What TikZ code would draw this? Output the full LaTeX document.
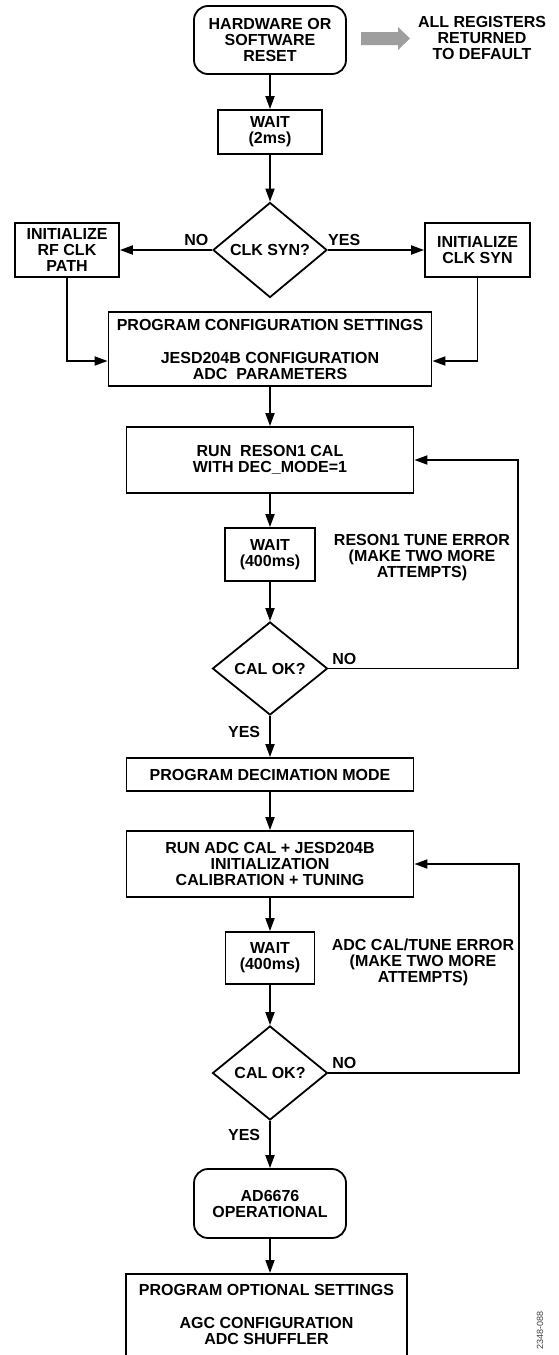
\documentclass[tikz,border=0pt]{standalone}
\usepackage{fontspec}
\setmainfont{Liberation Sans}
\usetikzlibrary{arrows.meta, calc, positioning, shapes.geometric}

\begin{document}
\begin{tikzpicture}[x=1pt, y=-1pt, line width=1.8pt,
    every node/.style={font=\fontsize{16}{16}\selectfont\bfseries, align=center},
    box/.style={draw, rectangle, inner sep=0pt},
    term/.style={box, rounded corners=14pt},
    decision/.style={draw, diamond, inner sep=0pt},
    flow/.style={-{Triangle[length=13pt,width=9pt]}},
    lbl/.style={inner sep=3pt}]
    \useasboundingbox (0,0) rectangle (559,1355);

    \coordinate (loop1) at (518,668.5);
    \coordinate (loop2) at (519,1073);

    \node[term, minimum width=152pt, minimum height=68pt] (reset) at (270,40) {HARDWARE OR\\SOFTWARE\\RESET};
    \node (regs) at (482,38) {ALL REGISTERS\\RETURNED\\TO DEFAULT};
    \fill[black!38] (361,32) -- (398,32) -- (398,27) -- (410,38.5) -- (398,50) -- (398,45) -- (361,45) -- cycle;

    \node[box, minimum width=104pt, minimum height=44pt] (wait1) at (270,132) {WAIT\\(2ms)};
    \node[decision, minimum width=114pt, minimum height=95pt] (clksyn) at (270,250) {CLK SYN?};
    \node[box, minimum width=104pt, minimum height=54pt] (rfclk) at (67,250) {INITIALIZE\\RF CLK\\PATH};
    \node[box, minimum width=105pt, minimum height=54pt] (clkinit) at (477.5,250) {INITIALIZE\\CLK SYN};
    \node[box, minimum width=323pt, minimum height=74pt] (progcfg) at (270,349) {PROGRAM CONFIGURATION SETTINGS\\[17pt]JESD204B CONFIGURATION\\ADC\ \ PARAMETERS};

    \node[box, minimum width=287pt, minimum height=66pt] (reson) at (270,460) {RUN\ \ RESON1 CAL\\WITH DEC\_MODE=1};
    \node[box, minimum width=90pt, minimum height=53pt] (wait2) at (270,554.5) {WAIT\\(400ms)};
    \node (err1) at (422,558) {RESON1 TUNE ERROR\\(MAKE TWO MORE\\ATTEMPTS)};
    \node[decision, minimum width=115pt, minimum height=93pt] (calok1) at (270,668.5) {CAL OK?};

    \node[box, minimum width=287pt, minimum height=33pt] (decim) at (270,774.5) {PROGRAM DECIMATION MODE};
    \node[box, minimum width=287pt, minimum height=66pt] (adccal) at (270,864) {RUN ADC CAL + JESD204B\\INITIALIZATION\\CALIBRATION + TUNING};
    \node[box, minimum width=89pt, minimum height=52pt] (wait3) at (270,958) {WAIT\\(400ms)};
    \node (err2) at (423,962) {ADC CAL/TUNE ERROR\\(MAKE TWO MORE\\ATTEMPTS)};
    \node[decision, minimum width=115pt, minimum height=94pt] (calok2) at (270,1073) {CAL OK?};

    \node[term, minimum width=152pt, minimum height=69pt] (oper) at (270,1203.5) {AD6676\\OPERATIONAL};
    \node[box, anchor=north, minimum width=281pt, inner ysep=10pt, text depth=70pt] (optset) at (266.5,1273) {PROGRAM OPTIONAL SETTINGS\\[17pt]AGC CONFIGURATION\\ADC SHUFFLER};
    \node[rotate=90, font=\fontsize{9}{9}\selectfont, text=black!75] (figid) at (540,1330) {2348-088};

    \draw[flow] (reset) -- (wait1);
    \draw[flow] (wait1) -- (clksyn);
    \draw[flow] (clksyn) -- node[lbl, pos=0.17, above] {NO} (rfclk);
    \draw[flow] (clksyn) -- node[lbl, pos=0.17, above] {YES} (clkinit);
    \draw[flow] (rfclk.south) |- ([yshift=-12pt]progcfg.west);
    \draw[flow] (clkinit.south) |- ([yshift=-12pt]progcfg.east);
    \draw[flow] (progcfg) -- (reson);

    \draw[flow] (reson) -- (wait2);
    \draw[flow] (wait2) -- (calok1);
    \draw[flow] (calok1.east) -- node[lbl, pos=0, anchor=south west] {NO} (loop1) |- (reson.east);
    \draw[flow] (calok1) -- node[lbl, pos=0.4, left=6pt] {YES} (decim);

    \draw[flow] (decim) -- (adccal);
    \draw[flow] (adccal) -- (wait3);
    \draw[flow] (wait3) -- (calok2);
    \draw[flow] (calok2.east) -- node[lbl, pos=0, anchor=south west] {NO} (loop2) |- (adccal.east);
    \draw[flow] (calok2) -- node[lbl, pos=0.3, left=6pt] {YES} (oper);
    \draw[flow] (oper.south) -- (oper.south |- optset.north);
\end{tikzpicture}
\end{document}
